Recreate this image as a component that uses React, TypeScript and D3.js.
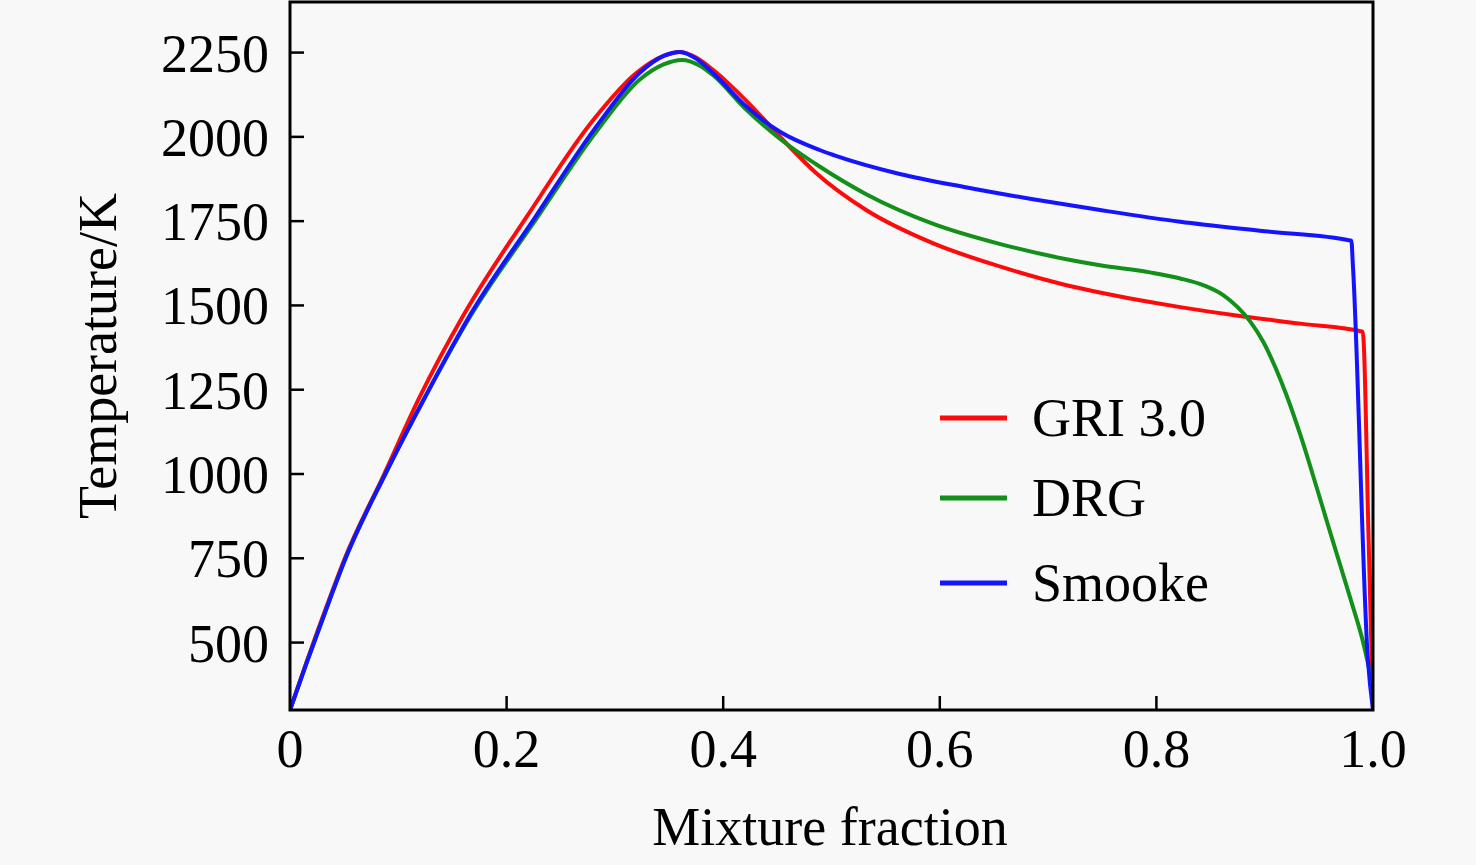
import { useMemo } from 'react'
import * as d3 from 'd3'

type Pt = [number, number]

// mixture fraction, temperature (K)
const gri: Pt[] = [
  [0, 300], [0.015, 440], [0.037, 635], [0.05, 745], [0.087, 1000], [0.12, 1230],
  [0.16, 1470], [0.22, 1770], [0.28, 2050], [0.32, 2190], [0.345, 2240], [0.36, 2252],
  [0.375, 2235], [0.39, 2200], [0.406, 2155], [0.425, 2095], [0.4555, 1990], [0.486, 1892],
  [0.532, 1783], [0.594, 1684], [0.656, 1615], [0.717, 1560], [0.75, 1537], [0.794, 1510],
  [0.822, 1495], [0.874, 1470], [0.933, 1446], [0.9905, 1422], [0.996, 800], [1.0, 300],
]

const drg: Pt[] = [
  [0, 300], [0.015, 437], [0.037, 630], [0.05, 740], [0.088, 1000], [0.125, 1230],
  [0.166, 1465], [0.226, 1750], [0.285, 2025], [0.323, 2170], [0.345, 2215], [0.362, 2228],
  [0.378, 2212], [0.391, 2182], [0.42, 2085], [0.452, 1995], [0.489, 1912], [0.532, 1830],
  [0.594, 1742], [0.656, 1682], [0.717, 1637], [0.748, 1619], [0.794, 1598], [0.822, 1580],
  [0.845, 1558], [0.862, 1530], [0.875, 1495], [0.886, 1455], [0.899, 1390], [0.91, 1315],
  [0.92, 1235], [0.933, 1115], [0.948, 960], [0.963, 800], [0.979, 632], [0.99, 512], [1.0, 370],
]

const smooke: Pt[] = [
  [0, 300], [0.015, 437], [0.037, 630], [0.05, 740], [0.088, 1000], [0.125, 1230],
  [0.166, 1470], [0.226, 1760], [0.285, 2040], [0.323, 2190], [0.345, 2240], [0.36, 2252],
  [0.375, 2232], [0.391, 2188], [0.4217, 2089], [0.4524, 2015], [0.489, 1961], [0.502, 1946],
  [0.563, 1890], [0.625, 1850], [0.686, 1815], [0.748, 1783], [0.822, 1748], [0.9, 1720],
  [0.98, 1692], [0.9815, 1615], [0.9953, 448], [1.0, 300],
]

const xTicks = [0, 0.2, 0.4, 0.6, 0.8, 1.0]
const xTickLabels = ['0', '0.2', '0.4', '0.6', '0.8', '1.0']
const yTicks = [500, 750, 1000, 1250, 1500, 1750, 2000, 2250]

const series = [
  { key: 'gri', label: 'GRI 3.0', color: '#ff0a0a', data: gri },
  { key: 'drg', label: 'DRG', color: '#12901a', data: drg },
  { key: 'smooke', label: 'Smooke', color: '#1414ff', data: smooke },
]

const W = 1476, H = 865
const box = { left: 290, right: 1373, top: 2, bottom: 710 }
const FONT = '"Liberation Serif", "Times New Roman", serif'

export default function App() {
  const x = useMemo(() => d3.scaleLinear().domain([0, 1]).range([box.left, box.right]), [])
  const y = useMemo(() => d3.scaleLinear().domain([300, 2400]).range([box.bottom, box.top]), [])
  const line = d3.line<Pt>().x(d => x(d[0])).y(d => y(d[1])).curve(d3.curveMonotoneX)

  return (
    <svg width={W} height={H} style={{ position: 'absolute', left: 0, top: 0, display: 'block' }}
      fontFamily={FONT}>
      <rect width={W} height={H} fill="#f8f8f8" />

      <defs>
        <clipPath id="plot">
          <rect x={box.left} y={box.top} width={box.right - box.left} height={box.bottom - box.top} />
        </clipPath>
      </defs>

      {/* 곡선 */}
      <g clipPath="url(#plot)">
        {series.map(s => (
          <path key={s.key} d={line(s.data) ?? ''} fill="none" stroke={s.color}
            strokeWidth={4} strokeLinejoin="round" />
        ))}
      </g>

      {/* 프레임 */}
      <rect x={box.left} y={box.top} width={box.right - box.left} height={box.bottom - box.top}
        fill="none" stroke="#000" strokeWidth={3} />

      {/* x 축 */}
      {xTicks.map((t, i) => (
        <g key={t}>
          {i > 0 && i < xTicks.length - 1 && (
            <line x1={x(t)} x2={x(t)} y1={box.bottom} y2={box.bottom - 14} stroke="#000" strokeWidth={2.5} />
          )}
          <text x={x(t)} y={767} textAnchor="middle" fontSize={54} fill="#000">{xTickLabels[i]}</text>
        </g>
      ))}

      {/* y 축 */}
      {yTicks.map(t => (
        <g key={t}>
          <line x1={box.left} x2={box.left + 14} y1={y(t)} y2={y(t)} stroke="#000" strokeWidth={2.5} />
          <text x={269} y={y(t) + 19} textAnchor="end" fontSize={54} fill="#000">{t}</text>
        </g>
      ))}

      <text x={830} y={845} textAnchor="middle" fontSize={54} fill="#000">Mixture fraction</text>
      <text transform={`translate(116,356) rotate(-90)`} textAnchor="middle" fontSize={54} fill="#000">
        Temperature/K
      </text>

      {/* 범례 */}
      {series.map((s, i) => {
        const ly = [418, 498, 583][i]
        return (
          <g key={s.key}>
            <line x1={940} x2={1007} y1={ly} y2={ly} stroke={s.color} strokeWidth={5} />
            <text x={1032} y={ly + 18} fontSize={54} fill="#000">{s.label}</text>
          </g>
        )
      })}
    </svg>
  )
}
